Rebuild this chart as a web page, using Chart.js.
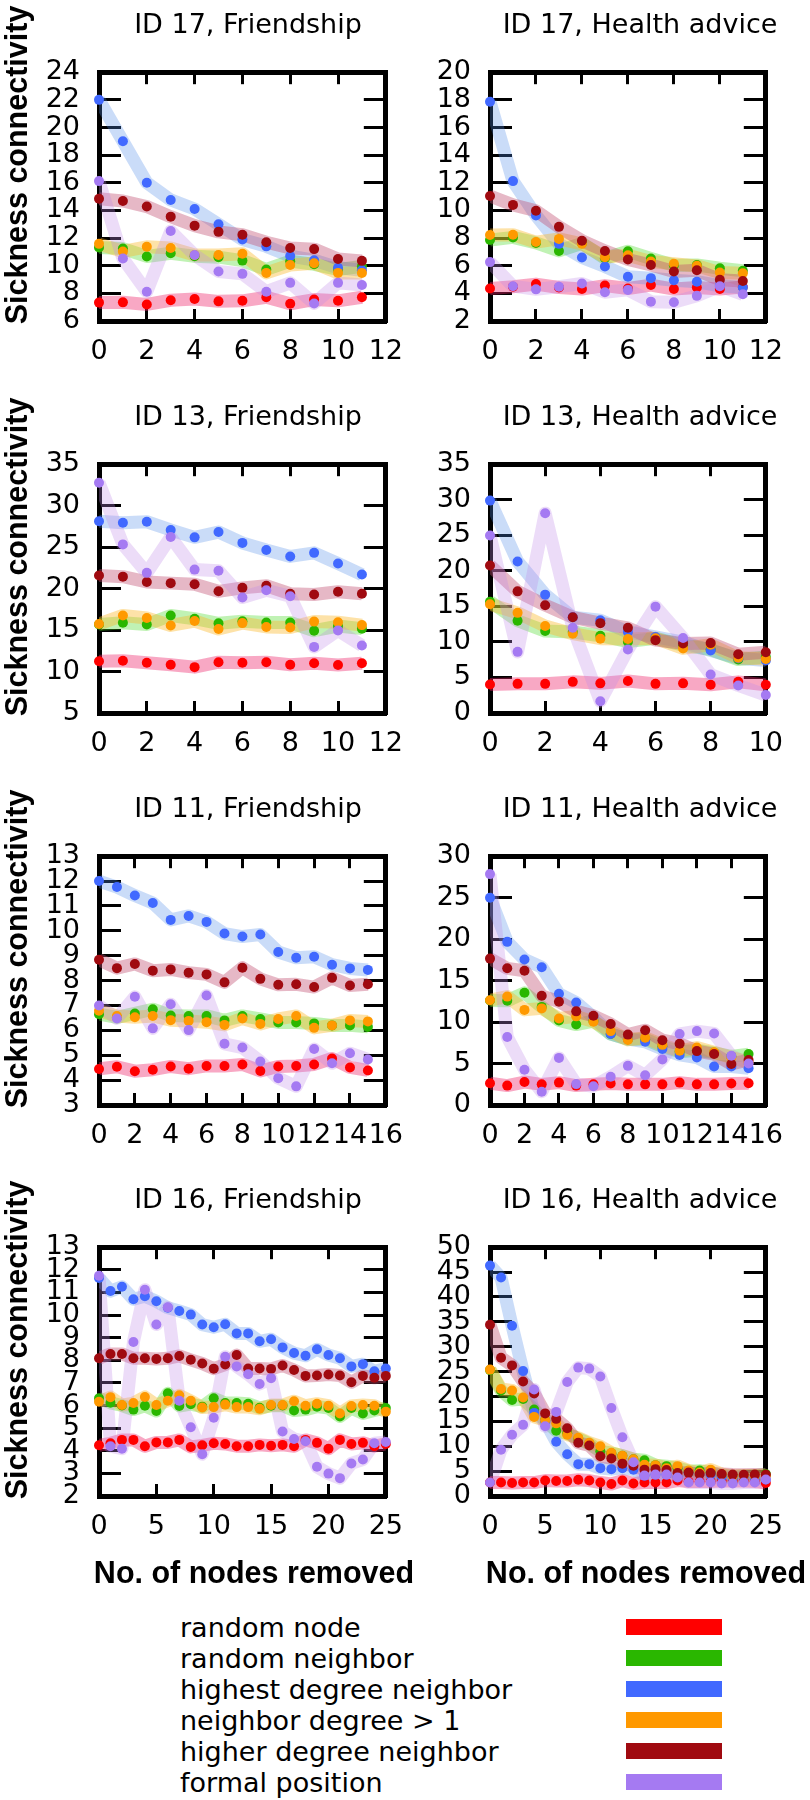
<!DOCTYPE html>
<html>
<head>
<meta charset="utf-8">
<script src="https://cdn.jsdelivr.net/npm/chart.js@4.4.0/dist/chart.umd.min.js"></script>
<style>
  body { margin: 0; background: #fff; width: 810px; height: 1800px; position: relative; overflow: hidden; }
  canvas { position: absolute; }
  .ttl { position: absolute; font-family: "DejaVu Sans"; font-size: 27px; line-height: 27px; white-space: nowrap; transform: translateX(-50%); color: #000; }
  .ylab { position: absolute; width: 400px; height: 30px; line-height: 30px; text-align: center; font-family: "Liberation Sans"; font-weight: bold; font-size: 30.5px; transform: rotate(-90deg); white-space: nowrap; }
  .xlab { position: absolute; font-family: "Liberation Sans"; font-weight: bold; font-size: 30.5px; line-height: 30px; white-space: nowrap; transform: translateX(-50%); }
  .leg { position: absolute; left: 180px; font-family: "DejaVu Sans"; font-size: 27px; line-height: 31px; white-space: nowrap; }
  .swatch { position: absolute; left: 626px; width: 96px; height: 16px; }
</style>
</head>
<body>
<script>
// series, in legend order
var seriesNames = ['random node', 'random neighbor', 'highest degree neighbor', 'neighbor degree > 1', 'higher degree neighbor', 'formal position'];
var pointColors = ['#ff0000', '#2ab700', '#4169ff', '#ff9900', '#a00a10', '#a57af2'];
var bandColors = ['rgba(238,38,108,0.4)', 'rgba(75,218,41,0.35)', 'rgba(78,138,232,0.3)', 'rgba(250,182,37,0.4)', 'rgba(192,77,112,0.4)', 'rgba(192,138,232,0.3)'];

// no. of nodes removed
var nodes12 = [0, 1, 2, 3, 4, 5, 6, 7, 8, 9, 10, 11];
var nodes11 = [0, 1, 2, 3, 4, 5, 6, 7, 8, 9, 10];
var nodes16 = [0, 1, 2, 3, 4, 5, 6, 7, 8, 9, 10, 11, 12, 13, 14, 15];
var nodes26 = [0, 1, 2, 3, 4, 5, 6, 7, 8, 9, 10, 11, 12, 13, 14, 15, 16, 17, 18, 19, 20, 21, 22, 23, 24, 25];

// tick labels
var xTicks12 = [0, 2, 4, 6, 8, 10, 12];
var xTicks10 = [0, 2, 4, 6, 8, 10];
var xTicks16 = [0, 2, 4, 6, 8, 10, 12, 14, 16];
var xTicks25 = [0, 5, 10, 15, 20, 25];
var yTicks17f = [6, 8, 10, 12, 14, 16, 18, 20, 22, 24];
var yTicks17h = [2, 4, 6, 8, 10, 12, 14, 16, 18, 20];
var yTicks13f = [5, 10, 15, 20, 25, 30, 35];
var yTicks13h = [0, 5, 10, 15, 20, 25, 30, 35];
var yTicks11f = [3, 4, 5, 6, 7, 8, 9, 10, 11, 12, 13];
var yTicks11h = [0, 5, 10, 15, 20, 25, 30];
var yTicks16f = [2, 3, 4, 5, 6, 7, 8, 9, 10, 11, 12, 13];
var yTicks16h = [0, 5, 10, 15, 20, 25, 30, 35, 40, 45, 50];

// ID 17, Friendship
var id17f_randomNode = [7.33, 7.35, 7.2, 7.5, 7.59, 7.42, 7.46, 7.72, 7.25, 7.55, 7.46, 7.72];
var id17f_randomNeighbor = [11.32, 11.24, 10.67, 10.9, 10.69, 10.62, 10.37, 9.73, 10.33, 10.1, 9.73, 9.95];
var id17f_highestDegree = [22.0, 19.0, 16.0, 14.76, 14.1, 13.0, 11.9, 11.4, 10.7, 10.4, 9.85, 9.67];
var id17f_degreeAbove1 = [11.58, 11.03, 11.37, 11.28, 10.77, 10.77, 10.86, 9.48, 10.05, 10.18, 9.48, 9.48];
var id17f_higherDegree = [14.85, 14.68, 14.28, 13.55, 12.9, 12.45, 12.24, 11.7, 11.28, 11.2, 10.48, 10.35];
var id17f_formalPosition = [16.12, 10.52, 8.12, 12.51, 10.77, 9.58, 9.41, 8.12, 8.76, 7.27, 8.76, 8.6];

// ID 17, Health advice
var id17h_randomNode = [4.35, 4.48, 4.67, 4.42, 4.31, 4.56, 4.35, 4.6, 4.31, 4.42, 4.31, 4.46];
var id17h_randomNeighbor = [7.86, 8.05, 7.65, 7.07, 7.62, 6.54, 7.05, 6.52, 6.03, 6.05, 5.82, 5.63];
var id17h_highestDegree = [17.86, 12.12, 9.64, 7.58, 6.6, 5.94, 5.2, 5.1, 4.95, 4.84, 4.55, 4.42];
var id17h_degreeAbove1 = [8.22, 8.24, 7.71, 7.94, 7.58, 6.62, 6.75, 6.31, 6.14, 5.99, 5.5, 5.46];
var id17h_higherDegree = [11.04, 10.4, 9.98, 8.81, 7.81, 7.07, 6.45, 6.05, 5.58, 5.67, 4.99, 4.9];
var id17h_formalPosition = [6.26, 4.52, 4.29, 4.48, 4.71, 4.08, 4.25, 3.4, 3.36, 3.82, 4.52, 3.93];

// ID 13, Friendship
var id13f_randomNode = [11.24, 11.31, 11.06, 10.81, 10.53, 11.13, 11.06, 11.13, 10.81, 10.99, 10.78, 10.99];
var id13f_randomNeighbor = [15.67, 15.88, 15.67, 16.76, 16.37, 15.81, 16.06, 15.91, 15.91, 14.92, 15.49, 15.17];
var id13f_highestDegree = [28.13, 27.95, 28.06, 27.07, 26.18, 26.82, 25.51, 24.66, 23.88, 24.31, 23.03, 21.69];
var id13f_degreeAbove1 = [15.74, 16.76, 16.45, 15.56, 16.09, 15.13, 15.84, 15.38, 15.31, 16.02, 15.95, 15.6];
var id13f_higherDegree = [21.58, 21.44, 20.8, 20.66, 20.52, 19.67, 20.09, 20.34, 19.38, 19.28, 19.63, 19.38];
var id13f_formalPosition = [32.77, 25.33, 21.9, 26.22, 22.29, 22.15, 18.92, 19.81, 19.07, 12.97, 14.96, 13.14];

// ID 13, Health advice
var id13h_randomNode = [4.01, 4.1, 4.1, 4.38, 4.17, 4.5, 4.1, 4.17, 3.97, 4.38, 3.97];
var id13h_randomNeighbor = [15.66, 12.98, 11.53, 11.4, 10.87, 10.04, 10.5, 9.55, 8.93, 7.52, 7.89];
var id13h_highestDegree = [29.88, 21.32, 16.65, 13.47, 13.06, 11.4, 10.7, 9.96, 8.8, 7.69, 7.4];
var id13h_degreeAbove1 = [15.29, 14.09, 12.23, 11.16, 10.45, 10.41, 10.5, 9.09, 9.6, 7.77, 7.6];
var id13h_higherDegree = [20.74, 17.11, 15.17, 13.47, 12.64, 11.98, 10.25, 9.79, 9.83, 8.26, 8.55];
var id13h_formalPosition = [24.96, 8.6, 28.1, 11.98, 1.65, 8.93, 14.96, 10.54, 5.41, 3.88, 2.52];

// ID 11, Friendship
var id11f_randomNode = [4.45, 4.54, 4.36, 4.42, 4.55, 4.46, 4.57, 4.57, 4.63, 4.37, 4.55, 4.57, 4.63, 4.87, 4.51, 4.39];
var id11f_randomNeighbor = [6.65, 6.52, 6.68, 6.85, 6.6, 6.58, 6.58, 6.4, 6.58, 6.46, 6.32, 6.32, 6.28, 6.2, 6.2, 6.14];
var id11f_highestDegree = [12.0, 11.76, 11.42, 11.12, 10.44, 10.6, 10.36, 9.89, 9.77, 9.85, 9.15, 8.92, 8.96, 8.64, 8.49, 8.43];
var id11f_degreeAbove1 = [6.79, 6.58, 6.53, 6.58, 6.41, 6.38, 6.33, 6.22, 6.48, 6.26, 6.46, 6.58, 6.1, 6.2, 6.4, 6.36];
var id11f_higherDegree = [8.84, 8.5, 8.67, 8.4, 8.45, 8.32, 8.25, 7.93, 8.52, 8.07, 7.83, 7.85, 7.74, 8.11, 7.8, 7.85];
var id11f_formalPosition = [7.0, 6.48, 7.35, 6.08, 7.05, 6.01, 7.4, 5.46, 5.31, 4.75, 4.08, 3.75, 5.25, 4.68, 5.08, 4.83];

// ID 11, Health advice
var id11h_randomNode = [2.63, 2.34, 2.77, 2.49, 2.7, 2.34, 2.49, 2.6, 2.49, 2.49, 2.49, 2.7, 2.49, 2.49, 2.6, 2.63];
var id11h_randomNeighbor = [12.6, 12.57, 13.53, 11.83, 10.19, 9.7, 10.12, 8.56, 7.92, 7.92, 7.07, 6.43, 6.61, 6.29, 5.86, 6.14];
var id11h_highestDegree = [25.0, 19.67, 17.54, 16.62, 13.42, 12.36, 10.6, 8.56, 7.95, 7.63, 6.75, 6.04, 5.72, 4.65, 4.65, 4.44];
var id11h_degreeAbove1 = [12.64, 13.07, 11.47, 11.65, 10.44, 10.69, 10.05, 8.91, 7.85, 8.1, 7.25, 6.54, 6.93, 6.36, 5.72, 5.15];
var id11h_higherDegree = [17.65, 16.48, 16.19, 13.17, 12.46, 11.29, 10.76, 9.77, 8.49, 9.02, 7.81, 7.39, 6.5, 6.14, 4.94, 5.43];
var id11h_formalPosition = [27.84, 8.2, 4.26, 1.6, 5.68, 2.52, 2.27, 3.41, 4.72, 3.59, 5.5, 8.56, 8.91, 8.63, 5.93, 5.0];

// ID 16, Friendship
var id16f_randomNode = [4.24, 4.33, 4.48, 4.48, 4.2, 4.37, 4.37, 4.48, 4.17, 4.24, 4.33, 4.3, 4.2, 4.2, 4.26, 4.22, 4.26, 4.2, 4.48, 4.35, 4.09, 4.48, 4.3, 4.35, 4.2, 4.3];
var id16f_randomNeighbor = [6.32, 6.12, 6.0, 5.82, 5.99, 5.76, 6.54, 5.98, 6.06, 5.95, 6.32, 6.11, 6.11, 6.08, 5.9, 5.99, 6.0, 5.78, 5.82, 5.95, 5.89, 5.52, 5.89, 5.65, 5.78, 5.89];
var id16f_highestDegree = [11.64, 11.06, 11.25, 10.7, 10.83, 10.61, 10.32, 10.18, 10.02, 9.58, 9.46, 9.59, 9.19, 9.19, 8.84, 8.93, 8.57, 8.32, 8.2, 8.49, 8.23, 8.09, 7.73, 7.83, 7.51, 7.64];
var id16f_degreeAbove1 = [6.17, 6.37, 6.02, 6.11, 6.38, 6.02, 6.21, 6.45, 6.21, 5.91, 5.93, 6.04, 5.93, 5.93, 5.86, 6.02, 6.02, 6.19, 5.99, 6.08, 5.99, 5.65, 5.98, 6.02, 5.99, 5.73];
var id16f_higherDegree = [8.09, 8.28, 8.28, 8.09, 8.09, 8.06, 8.09, 8.19, 8.02, 7.86, 7.63, 7.81, 8.23, 7.64, 7.64, 7.62, 7.77, 7.57, 7.31, 7.33, 7.37, 7.33, 7.03, 7.31, 7.23, 7.31];
var id16f_formalPosition = [11.74, 4.2, 4.09, 8.81, 11.12, 9.58, 10.34, 6.21, 5.04, 3.85, 5.46, 8.16, 7.73, 7.38, 6.95, 7.21, 4.85, 4.52, 4.42, 3.29, 2.99, 2.79, 3.44, 3.61, 4.33, 4.39];

// ID 16, Health advice
var id16h_randomNode = [2.7, 2.7, 2.6, 2.7, 2.7, 3.1, 3.0, 3.0, 3.25, 3.1, 2.7, 2.4, 3.1, 2.5, 2.7, 2.7, 2.7, 3.1, 2.9, 2.9, 2.9, 3.0, 3.0, 3.0, 2.9, 2.6];
var id16h_randomNeighbor = [25.3, 21.2, 19.3, 19.5, 17.4, 15.2, 13.1, 12.6, 11.5, 10.5, 9.0, 8.6, 8.1, 7.4, 7.2, 6.2, 6.0, 5.6, 5.0, 5.1, 4.7, 4.1, 3.9, 4.0, 4.1, 4.4];
var id16h_highestDegree = [46.3, 43.9, 34.2, 25.1, 16.7, 15.0, 10.9, 8.4, 6.4, 6.4, 5.6, 5.4, 5.6, 5.3, 4.1, 4.3, 4.3, 3.8, 4.7, 4.4, 4.3, 3.9, 3.6, 3.9, 3.7, 3.3];
var id16h_degreeAbove1 = [25.4, 21.5, 21.2, 19.8, 15.9, 15.2, 14.6, 12.3, 11.7, 10.7, 10.0, 8.7, 8.1, 7.4, 6.3, 6.2, 5.6, 6.0, 5.1, 4.7, 5.3, 4.4, 4.0, 4.1, 4.1, 4.1];
var id16h_higherDegree = [34.4, 27.8, 26.25, 23.0, 20.6, 16.6, 15.5, 13.6, 10.7, 10.15, 8.0, 7.55, 6.5, 6.1, 5.3, 5.4, 5.2, 4.6, 4.7, 4.4, 4.6, 4.4, 4.3, 4.25, 4.3, 4.3];
var id16h_formalPosition = [2.7, 9.3, 12.3, 14.3, 21.4, 14.0, 16.9, 22.9, 25.8, 25.6, 24.0, 17.7, 11.8, 6.8, 4.1, 4.3, 4.3, 3.7, 2.7, 2.7, 2.7, 2.5, 2.5, 2.7, 2.7, 3.3];

var panels = [
  { title: 'ID 17, Friendship', row: 0, col: 0, nodes: nodes12, xTicks: xTicks12, yTicks: yTicks17f,
    series: [id17f_randomNode, id17f_randomNeighbor, id17f_highestDegree, id17f_degreeAbove1, id17f_higherDegree, id17f_formalPosition] },
  { title: 'ID 17, Health advice', row: 0, col: 1, nodes: nodes12, xTicks: xTicks12, yTicks: yTicks17h,
    series: [id17h_randomNode, id17h_randomNeighbor, id17h_highestDegree, id17h_degreeAbove1, id17h_higherDegree, id17h_formalPosition] },
  { title: 'ID 13, Friendship', row: 1, col: 0, nodes: nodes12, xTicks: xTicks12, yTicks: yTicks13f,
    series: [id13f_randomNode, id13f_randomNeighbor, id13f_highestDegree, id13f_degreeAbove1, id13f_higherDegree, id13f_formalPosition] },
  { title: 'ID 13, Health advice', row: 1, col: 1, nodes: nodes11, xTicks: xTicks10, yTicks: yTicks13h,
    series: [id13h_randomNode, id13h_randomNeighbor, id13h_highestDegree, id13h_degreeAbove1, id13h_higherDegree, id13h_formalPosition] },
  { title: 'ID 11, Friendship', row: 2, col: 0, nodes: nodes16, xTicks: xTicks16, yTicks: yTicks11f,
    series: [id11f_randomNode, id11f_randomNeighbor, id11f_highestDegree, id11f_degreeAbove1, id11f_higherDegree, id11f_formalPosition] },
  { title: 'ID 11, Health advice', row: 2, col: 1, nodes: nodes16, xTicks: xTicks16, yTicks: yTicks11h,
    series: [id11h_randomNode, id11h_randomNeighbor, id11h_highestDegree, id11h_degreeAbove1, id11h_higherDegree, id11h_formalPosition] },
  { title: 'ID 16, Friendship', row: 3, col: 0, nodes: nodes26, xTicks: xTicks25, yTicks: yTicks16f,
    series: [id16f_randomNode, id16f_randomNeighbor, id16f_highestDegree, id16f_degreeAbove1, id16f_higherDegree, id16f_formalPosition] },
  { title: 'ID 16, Health advice', row: 3, col: 1, nodes: nodes26, xTicks: xTicks25, yTicks: yTicks16h,
    series: [id16h_randomNode, id16h_randomNeighbor, id16h_highestDegree, id16h_degreeAbove1, id16h_higherDegree, id16h_formalPosition] }
];

// page layout (pixels)
var rowTops = [39, 431, 823, 1214];
var boxH = 282;
var padTop = 24, axisH = 60;
var cols = [
  { left: 0, width: 430, axisW: 99, padRight: 33, centre: 248 },
  { left: 410, width: 400, axisW: 80, padRight: 20, centre: 640 }
];

Chart.defaults.font.family = 'DejaVu Sans';
Chart.defaults.font.size = 27;
Chart.defaults.color = '#000';

function addDiv(cls, text, css) {
  var d = document.createElement('div');
  d.className = cls;
  d.textContent = text;
  Object.assign(d.style, css);
  document.body.appendChild(d);
  return d;
}

function tickSetter(list) {
  return function (scale) {
    scale.ticks = list.map(function (v) { return { value: v }; });
  };
}

function axisOpts(position, min, max, list, tickLen, showLabels, size, pad) {
  var horiz = position === 'top' || position === 'bottom';
  return {
    type: 'linear',
    position: position,
    min: min,
    max: max,
    afterBuildTicks: tickSetter(list),
    afterFit: function (s) { if (horiz) s.height = size; else s.width = size; },
    grid: { drawOnChartArea: false, drawTicks: true, tickLength: tickLen, tickWidth: 3, tickColor: '#000', color: '#000' },
    border: { display: true, width: 5, color: '#000' },
    ticks: { display: showLabels, autoSkip: false, maxRotation: 0, minRotation: 0, padding: pad, color: '#000',
             font: { family: 'DejaVu Sans', size: 27 } }
  };
}

panels.forEach(function (p) {
  var col = cols[p.col];
  var top = rowTops[p.row];

  var cv = document.createElement('canvas');
  cv.width = col.width;
  cv.height = padTop + boxH + axisH;
  cv.style.left = col.left + 'px';
  cv.style.top = (top - padTop) + 'px';
  cv.style.width = col.width + 'px';
  cv.style.height = cv.height + 'px';
  document.body.appendChild(cv);

  var datasets = [];
  p.series.forEach(function (vals, i) {
    var pts = p.nodes.map(function (x, j) { return { x: x, y: vals[j] }; });
    // shaded band behind the points
    datasets.push({
      label: seriesNames[i] + ' band',
      data: pts,
      borderColor: bandColors[i],
      borderWidth: 13,
      borderJoinStyle: 'round',
      borderCapStyle: 'butt',
      pointRadius: 0,
      tension: 0,
      fill: false,
      order: 20 - i
    });
    datasets.push({
      label: seriesNames[i],
      data: pts,
      showLine: false,
      pointRadius: 5,
      pointBorderWidth: 0,
      pointBackgroundColor: pointColors[i],
      pointBorderColor: pointColors[i],
      clip: false,
      order: 10 - i
    });
  });

  var xMin = p.xTicks[0], xMax = p.xTicks[p.xTicks.length - 1];
  var yMin = p.yTicks[0], yMax = p.yTicks[p.yTicks.length - 1];

  new Chart(cv, {
    type: 'line',
    data: { datasets: datasets },
    options: {
      responsive: false,
      animation: false,
      devicePixelRatio: 1,
      layout: { padding: { top: padTop, right: col.padRight, left: 0, bottom: 0 } },
      plugins: { legend: { display: false }, tooltip: { enabled: false } },
      scales: {
        x: axisOpts('bottom', xMin, xMax, p.xTicks, -12, true, axisH, 27),
        x2: axisOpts('top', xMin, xMax, p.xTicks, -12, false, 0, 0),
        y: axisOpts('left', yMin, yMax, p.yTicks, -22, true, col.axisW, 41),
        y2: axisOpts('right', yMin, yMax, p.yTicks, -22, false, 0, 0)
      }
    }
  });

  addDiv('ttl', p.title, { left: col.centre + 'px', top: (top - 29.5) + 'px' });
  if (p.col === 0) {
    addDiv('ylab', 'Sickness connectivity', { left: (16 - 200) + 'px', top: (top + 126 - 15) + 'px' });
  }
  if (p.row === 3) {
    addDiv('xlab', 'No. of nodes removed', { left: (col.centre + 6) + 'px', top: '1557px' });
  }
});

// legend
seriesNames.forEach(function (name, i) {
  addDiv('leg', name, { top: (1612 + 31 * i) + 'px' });
  addDiv('swatch', '', { top: (1619 + 31 * i) + 'px', background: pointColors[i] });
});
</script>
</body>
</html>
